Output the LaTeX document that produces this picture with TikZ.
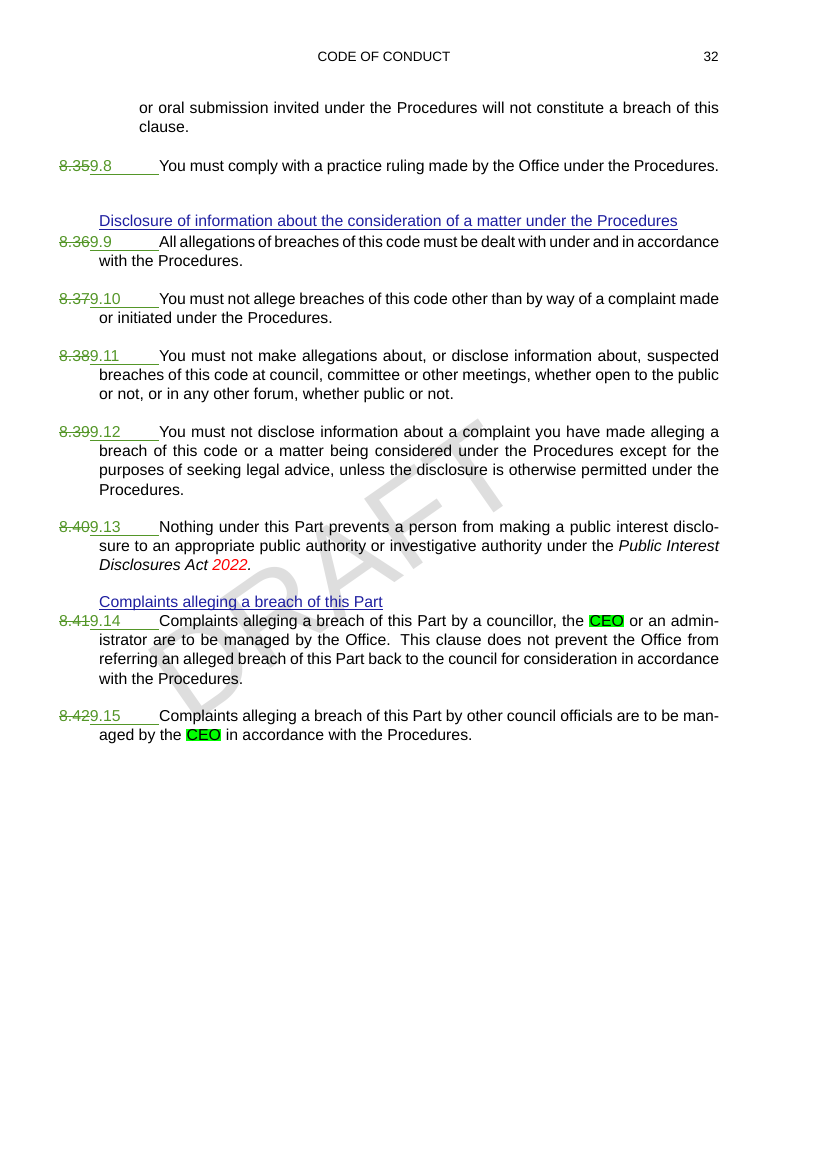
\documentclass[tikz,border=0pt]{standalone}
\usepackage{fontspec}
\setmainfont{Liberation Sans}
\definecolor{numgreen}{RGB}{84,150,40}
\definecolor{headblue}{RGB}{30,30,160}
\definecolor{hl}{RGB}{0,255,0}
\newcommand\mysout[1]{\setbox2\hbox{#1}\rlap{\rule[0.3em]{\wd2}{0.7pt}}\box2}
\newcommand\myul[1]{\setbox2\hbox{#1}\rlap{\rule[-0.2em]{\wd2}{0.7pt}}\box2}
\newcommand\pnum[2]{\setbox0\hbox{#1}\makebox[100pt][l]{\color{numgreen}\mysout{#1}\myul{\makebox[\dimexpr100pt-\wd0\relax][l]{#2}}}}
\newcommand\hlt[1]{{\fboxsep=0.5pt\colorbox{hl}{#1}}}
\newcommand\hang{\leftskip=40pt\hyphenpenalty=10000\exhyphenpenalty=10000\noindent\hskip-40pt\strut}
\begin{document}
\begin{tikzpicture}[x=1pt,y=-1pt,
  para/.style={anchor=north west,inner sep=0pt,text width=620pt,align=justify,font=\fontsize{15.8pt}{19.3pt}\selectfont},
  head/.style={anchor=base west,inner sep=0pt,font=\fontsize{15.8pt}{19.3pt}\selectfont,text=headblue}]
\useasboundingbox (0,0) rectangle (816,1155);
\node[anchor=base,font=\fontsize{13.5pt}{15pt}\selectfont] (hdr) at (384,62) {CODE OF CONDUCT};
\node[anchor=base,font=\fontsize{13.5pt}{15pt}\selectfont] (pg) at (711,62) {32};
\node[rotate=35,text=black!13,font=\fontsize{125pt}{125pt}\selectfont] (wm) at (335,572) {DRAFT};
\node[para,text width=580pt] (p0) at (139,99.5) {\hyphenpenalty=10000\strut or oral submission invited under the Procedures will not constitute a breach of this clause.};
\node[para] (p1) at (99,157.5) {\hang\pnum{8.35}{9.8}You must comply with a practice ruling made by the Office under the Procedures.};
\node[head] (h1) at (99,227) {\myul{Disclosure of information about the consideration of a matter under the Procedures}};
\node[para] (p2) at (99,233.5) {\hang\pnum{8.36}{9.9}All allegations of breaches of this code must be dealt with under and in accordance with the Procedures.};
\node[para] (p3) at (99,290.5) {\hang\pnum{8.37}{9.10}You must not allege breaches of this code other than by way of a complaint made or initiated under the Procedures.};
\node[para] (p4) at (99,347.5) {\hang\pnum{8.38}{9.11}You must not make allegations about, or disclose information about, suspected breaches of this code at council, committee or other meetings, whether open to the public or not, or in any other forum, whether public or not.};
\node[para] (p5) at (99,423.5) {\hang\pnum{8.39}{9.12}You must not disclose information about a complaint you have made alleging a breach of this code or a matter being considered under the Procedures except for the purposes of seeking legal advice, unless the disclosure is otherwise permitted under the Procedures.};
\node[para] (p6) at (99,518.5) {\hang\pnum{8.40}{9.13}Nothing under this Part prevents a person from making a public interest disclosure to an appropriate public authority or investigative authority under the \textit{Public Interest Disclosures Act \textcolor{red}{2022}.}};
\node[head] (h2) at (99,607) {\myul{Complaints alleging a breach of this Part}};
\node[para] (p7) at (99,612.5) {\hang\pnum{8.41}{9.14}Complaints alleging a breach of this Part by a councillor, the \hlt{CEO} or an administrator are to be managed by the Office. This clause does not prevent the Office from referring an alleged breach of this Part back to the council for consideration in accordance with the Procedures.};
\node[para] (p8) at (99,707.5) {\hang\pnum{8.42}{9.15}Complaints alleging a breach of this Part by other council officials are to be managed by the \hlt{CEO} in accordance with the Procedures.};
\end{tikzpicture}
\end{document}
